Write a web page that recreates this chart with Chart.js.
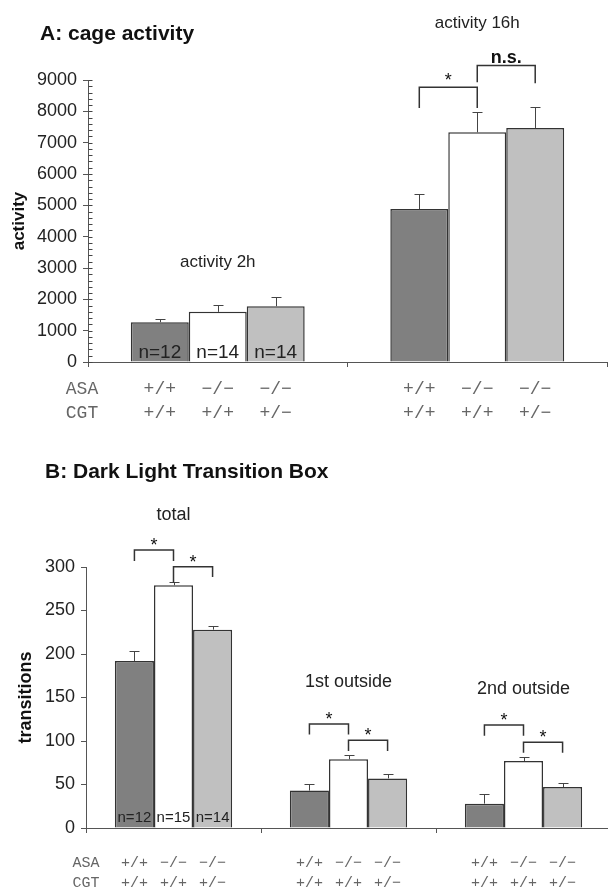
<!DOCTYPE html>
<html>
<head>
<meta charset="utf-8"/>
<title>cage activity / dark light transition box</title>
<script src="https://cdn.jsdelivr.net/npm/chart.js"></script>
<style>
  html, body { margin:0; padding:0; background:#fff; overflow:hidden; width:608px; height:890px; }
  canvas { position:absolute; left:0; }
  #chartA { top:0; }
  #chartB { top:440px; }
</style>
</head>
<body>
<canvas id="chartA" width="608" height="440"></canvas>
<canvas id="chartB" width="614" height="450"></canvas>
<script>
// genotypes (same three bars in every group)
const asa = ['+/+', '\u2212/\u2212', '\u2212/\u2212'];
const cgt = ['+/+', '+/+', '+/\u2212'];

// A: cage activity
const groupsA = ['activity 2h', 'activity 16h'];
const wtA  = [1270, 4880];
const koA  = [1600, 7330];
const hetA = [1780, 7470];
const wtErrA  = [90, 480];
const koErrA  = [235, 640];
const hetErrA = [280, 670];
const nA = ['n=12', 'n=14', 'n=14'];
const yTicksA = [0, 1000, 2000, 3000, 4000, 5000, 6000, 7000, 8000, 9000];

// B: dark light transition box
const groupsB = ['total', '1st outside', '2nd outside'];
const wtB  = [192, 43, 28];
const koB  = [279, 79, 77];
const hetB = [228, 57, 47];
const wtErrB  = [12, 8, 11];
const koErrB  = [4, 5, 5];
const hetErrB = [4, 5, 5];
const nB = ['n=12', 'n=15', 'n=14'];
const yTicksB = [0, 50, 100, 150, 200, 250, 300];

const SANS = '"Liberation Sans", Arial, sans-serif';
const MONO = '"Liberation Mono", "Courier New", monospace';
const fills = ['#808080', '#ffffff', '#c0c0c0'];

function line(ctx, x1, y1, x2, y2) {
  ctx.beginPath(); ctx.moveTo(x1, y1); ctx.lineTo(x2, y2); ctx.stroke();
}

// error bars, brackets, labels and genotype rows
const extras = {
  id: 'extras',
  afterDraw(chart, args, o) {
    const ctx = chart.ctx, ys = chart.scales.y, xs = chart.scales.x, ca = chart.chartArea;
    const metas = chart.data.datasets.map((d, i) => chart.getDatasetMeta(i));
    ctx.save();
    ctx.strokeStyle = '#444';
    ctx.lineWidth = 1;

    // minor ticks on the y axis
    if (o.minorStep) {
      const ax = Math.round(ca.left) + 0.5;
      for (let v = 0; v <= ys.max; v += o.minorStep) {
        const py = Math.round(ys.getPixelForValue(v)) + 0.5;
        line(ctx, ax, py, ax + 4, py);
      }
    }

    // error bars (up only)
    o.errors.forEach((errs, di) => {
      metas[di].data.forEach((bar, gi) => {
        const v = chart.data.datasets[di].data[gi];
        const top = Math.round(ys.getPixelForValue(v + errs[gi])) + 0.5;
        const x = Math.round(bar.x) + 0.5;
        line(ctx, x, bar.y, x, top);
        line(ctx, x - 5, top, x + 5, top);
      });
    });

    // significance brackets
    ctx.strokeStyle = '#333';
    ctx.lineWidth = 1.5;
    ctx.fillStyle = '#111';
    ctx.textAlign = 'center';
    ctx.textBaseline = 'middle';
    o.brackets.forEach(b => {
      const x1 = metas[b.from].data[b.group].x;
      const x2 = metas[b.to].data[b.group].x;
      const t = ys.getPixelForValue(b.top);
      ctx.beginPath();
      ctx.moveTo(x1, ys.getPixelForValue(b.legs[0]));
      ctx.lineTo(x1, t); ctx.lineTo(x2, t);
      ctx.lineTo(x2, ys.getPixelForValue(b.legs[1]));
      ctx.stroke();
      ctx.font = b.bold ? `bold ${o.starSize}px ${SANS}` : `${o.starSize}px ${SANS}`;
      ctx.fillText(b.label, (x1 + x2) / 2, ys.getPixelForValue(b.labelAt));
    });

    // group titles
    ctx.font = `${o.groupSize}px ${SANS}`;
    ctx.fillStyle = '#222';
    o.groupTitles.forEach((g, gi) => {
      ctx.fillText(g, xs.getPixelForValue(gi), ys.getPixelForValue(o.groupAt[gi]));
    });

    // n= labels inside the first group
    ctx.font = `${o.nSize}px ${SANS}`;
    ctx.textBaseline = 'alphabetic';
    o.n.forEach((s, di) => {
      ctx.fillText(s, metas[di].data[0].x, ca.bottom - o.nOffset);
    });

    // genotype rows
    ctx.font = `${o.genoSize}px ${MONO}`;
    ctx.fillStyle = '#666';
    ctx.textBaseline = 'middle';
    ctx.fillText('ASA', o.rowLabelX, ca.bottom + o.row1);
    ctx.fillText('CGT', o.rowLabelX, ca.bottom + o.row2);
    metas.forEach((m, di) => {
      m.data.forEach(bar => {
        ctx.fillText(asa[di], bar.x, ca.bottom + o.row1);
        ctx.fillText(cgt[di], bar.x, ca.bottom + o.row2);
      });
    });

    // panel title
    ctx.font = `bold ${o.titleSize}px ${SANS}`;
    ctx.fillStyle = '#111';
    ctx.textAlign = 'left';
    ctx.fillText(o.title, o.titleX, o.titleY);
    ctx.restore();
  }
};

function datasets(a, b, c) {
  return [a, b, c].map((d, i) => ({
    data: d,
    backgroundColor: fills[i],
    borderColor: '#333',
    borderWidth: 1.5,
    barPercentage: 1,
    categoryPercentage: 0.67
  }));
}

function scales(yTicks, yMax, axisWidth, yTitle, titleSize, titlePad) {
  return {
    x: {
      grid: { drawOnChartArea: false, tickLength: 5, color: '#555', offset: true },
      border: { color: '#555' },
      ticks: { display: false },
      afterFit: s => { s.height = 0; }
    },
    y: {
      min: 0, max: yMax,
      afterBuildTicks: s => { s.ticks = yTicks.map(v => ({ value: v })); },
      ticks: { font: { size: 18, family: SANS }, color: '#222', padding: 6,
               callback: v => String(v) },
      grid: { drawOnChartArea: false, tickLength: 5, color: '#555' },
      border: { color: '#555' },
      title: { display: true, text: yTitle, color: '#111',
               font: { size: titleSize, weight: 'bold', family: SANS },
               padding: { top: titlePad, bottom: 0 } },
      afterFit: s => { s.width = axisWidth; }
    }
  };
}

new Chart(document.getElementById('chartA'), {
  type: 'bar',
  data: { labels: groupsA, datasets: datasets(wtA, koA, hetA) },
  plugins: [extras],
  options: {
    responsive: false, animation: false,
    layout: { padding: { left: 0, right: 1, top: 80, bottom: 78 } },
    plugins: {
      legend: { display: false }, tooltip: { enabled: false },
      extras: {
        errors: [wtErrA, koErrA, hetErrA],
        minorStep: 200,
        brackets: [
          { group: 1, from: 0, to: 1, top: 8770, legs: [8110, 8110], label: '*', labelAt: 8960 },
          { group: 1, from: 1, to: 2, top: 9460, legs: [8930, 8900], label: 'n.s.', labelAt: 9690, bold: true }
        ],
        starSize: 18,
        groupTitles: groupsA, groupAt: [3190, 10820], groupSize: 17,
        n: nA, nSize: 19, nOffset: 4,
        genoSize: 18, rowLabelX: 82, row1: 27, row2: 51,
        title: 'A: cage activity', titleSize: 21, titleX: 40, titleY: 34
      }
    },
    scales: scales(yTicksA, 9000, 88, 'activity', 17, 9)
  }
});

new Chart(document.getElementById('chartB'), {
  type: 'bar',
  data: { labels: groupsB, datasets: datasets(wtB, koB, hetB) },
  plugins: [extras],
  options: {
    responsive: false, animation: false,
    layout: { padding: { left: 0, right: 3, top: 127, bottom: 62 } },
    plugins: {
      legend: { display: false }, tooltip: { enabled: false },
      extras: {
        errors: [wtErrB, koErrB, hetErrB],
        minorStep: 0,
        brackets: [
          { group: 0, from: 0, to: 1, top: 319.5, legs: [307, 307], label: '*', labelAt: 324 },
          { group: 0, from: 1, to: 2, top: 300.3, legs: [282, 288.5], label: '*', labelAt: 305 },
          { group: 1, from: 0, to: 1, top: 119.5, legs: [107.5, 107.5], label: '*', labelAt: 124.5 },
          { group: 1, from: 1, to: 2, top: 101, legs: [88.5, 88.5], label: '*', labelAt: 106 },
          { group: 2, from: 0, to: 1, top: 118.4, legs: [106, 106], label: '*', labelAt: 123.5 },
          { group: 2, from: 1, to: 2, top: 98.5, legs: [86.5, 86.5], label: '*', labelAt: 103.5 }
        ],
        starSize: 18,
        groupTitles: groupsB, groupAt: [360, 168, 160], groupSize: 18,
        n: nB, nSize: 15, nOffset: 6,
        genoSize: 15, rowLabelX: 86, row1: 35, row2: 55,
        title: 'B: Dark Light Transition Box', titleSize: 21, titleX: 45, titleY: 32
      }
    },
    scales: scales(yTicksB, 300, 86, 'transitions', 18, 15)
  }
});
</script>
</body>
</html>
